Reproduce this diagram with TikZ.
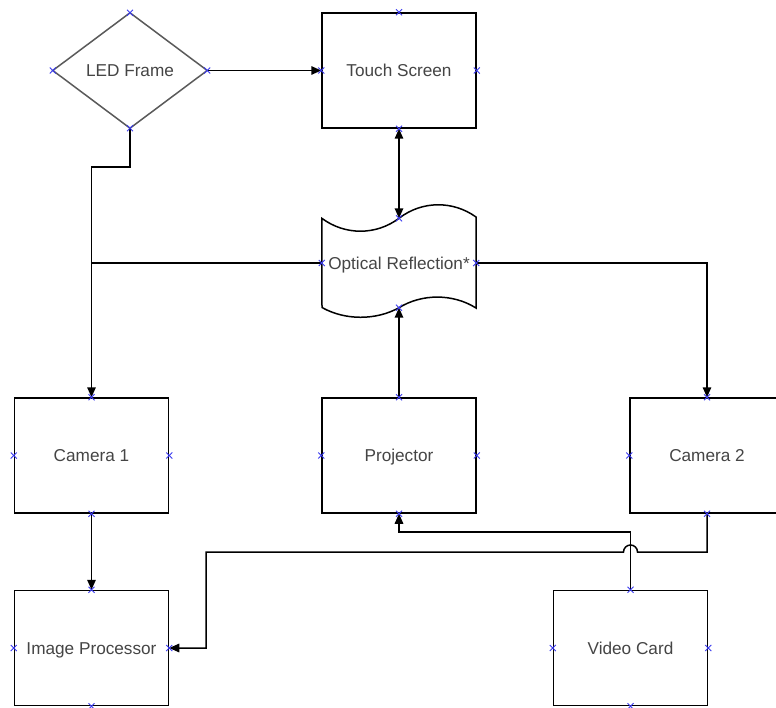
\documentclass[tikz,border=0pt]{standalone}
\usepackage{fontspec}
\setmainfont{Liberation Sans}
\usetikzlibrary{arrows.meta}
\definecolor{txtcol}{HTML}{454545}
\definecolor{cpcol}{HTML}{3A3AF0}
\definecolor{dmcol}{HTML}{5A5A5A}
\tikzset{
  lbl/.style={text=txtcol, font=\fontsize{17.2}{20}\selectfont, text height=12.3pt, text depth=0pt},
  box/.style={draw=black, line width=1.5pt, rectangle, minimum width=154pt, minimum height=115pt, inner sep=0pt, lbl},
  plain/.style={rectangle, inner sep=0pt, lbl},
  conn/.style={draw=black, line width=1.5pt},
  arr/.style={conn, -{Triangle[length=10pt,width=8.5pt]}},
  arrtwo/.style={conn, {Triangle[length=10pt,width=8.5pt]}-{Triangle[length=10pt,width=8.5pt]}},
  cpx/.pic={\draw[cpcol, line width=0.9pt] (-3,-3) -- (3,3) (-3,3) -- (3,-3);}
}
\begin{document}
\begin{tikzpicture}[x=1pt, y=-1pt]
\useasboundingbox (0,0) rectangle (776,708);
\fill[white] (0,0) rectangle (776,708);
\clip (0,0) rectangle (776,708);

% nodes
\node[plain, minimum width=154pt, minimum height=115pt] (led) at (130,70.5) {LED Frame};
\draw[dmcol, line width=1.5pt] (led.north) -- (led.east) -- (led.south) -- (led.west) -- cycle;

\node[box] (ts) at (399,70.5) {Touch Screen};

\node[plain, minimum width=154pt, minimum height=89pt] (opt) at (399,263) {Optical Reflection*};
\draw[black, line width=1.5pt]
  (opt.north west) .. controls (345,235.5) and (376,235.5) .. (opt.north)
  .. controls (422,200.5) and (453,200.5) .. (476,217)
  -- (476,308)
  .. controls (453,293.5) and (422,293.5) .. (opt.south)
  .. controls (376,320.5) and (345,320.5) .. (322,307.5) -- cycle;

\node[box] (cam1) at (91.5,455.5) {Camera 1};
\node[box] (proj) at (399,455.5) {Projector};
\node[box] (cam2) at (707,455.5) {Camera 2};
\node[box] (ip)   at (91.5,648) {Image Processor};
\node[box] (vc)   at (630.5,648) {Video Card};

% connectors
\draw[arr] (led.east) -- (ts.west);
\draw[arr] (led.south) -- ++(0,39) -| (cam1.north);
\draw[conn] (opt.west) -- (opt.west -| cam1.north);
\draw[arr] (opt.east) -| (cam2.north);
\draw[arrtwo] (ts.south) -- (opt.north);
\draw[arr] (proj.north) -- (opt.south);
\draw[arr] (cam1.south) -- (ip.north);
\coordinate (jmp) at (637.5,552);
\coordinate (turn) at (206,552);
\draw[arr] (cam2.south) |- (jmp) arc (0:-180:7) -- (turn) |- (ip.east);
\draw[arr] (vc.north) -- ++(0,-58) -| (proj.south);

% connection points
\foreach \n in {led,ts,cam1,proj,ip,vc}{
  \pic at (\n.north) {cpx};
  \pic at (\n.south) {cpx};
  \pic at (\n.east) {cpx};
  \pic at (\n.west) {cpx};
}
\pic at (opt.north) {cpx};
\pic at (opt.south) {cpx};
\pic at (opt.east) {cpx};
\pic at (opt.west) {cpx};
\pic at (cam2.north) {cpx};
\pic at (cam2.south) {cpx};
\pic at (cam2.west) {cpx};
\end{tikzpicture}
\end{document}
